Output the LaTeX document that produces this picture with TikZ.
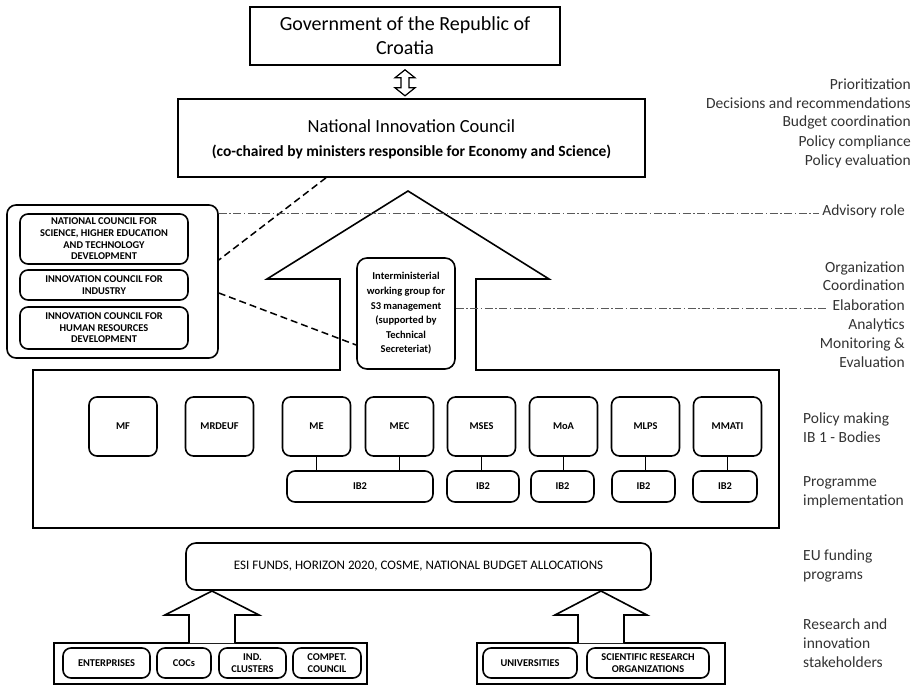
\documentclass[tikz,border=0pt]{standalone}
\usepackage{fontspec}
\setmainfont{Carlito}
\usetikzlibrary{calc}
\begin{document}
\begin{tikzpicture}[x=1pt,y=-1pt,
  plain/.style={draw, line width=1.6pt, inner sep=0pt},
  rbox/.style={draw, line width=1.6pt, rounded corners=8pt, inner sep=0pt, align=center, font=\fontsize{10.4}{11.6}\selectfont\bfseries},
  side/.style={font=\fontsize{15.5}{19}\selectfont, text=black!80, inner sep=0pt},
  ddash/.style={dash pattern=on 8pt off 2.5pt on 1.5pt off 2.5pt, line width=0.9pt, black!65},
  ldash/.style={dash pattern=on 7pt off 4pt, line width=1.5pt},
  conn/.style={line width=0.8pt},
  blockarrow/.style={line width=1.6pt, line join=miter, fill=white}]

\useasboundingbox[fill=white] (0,0) rectangle (916,685);

% top
\node[plain, minimum width=310, minimum height=58, align=center, font=\fontsize{20}{24}\selectfont] (gov) at (405,36) {Government of the Republic of\\Croatia};
\node[plain, minimum width=467, minimum height=78] (nic) at (411.5,138) {};
\node[font=\fontsize{18.5}{22}\selectfont, inner sep=0pt] (nict) at (411.5,126) {National Innovation Council};
\node[font=\fontsize{15.5}{18}\selectfont\bfseries, inner sep=0pt] (nics) at (411.5,152) {(co-chaired by ministers responsible for Economy and Science)};

% double arrow
\draw[blockarrow, line width=1.2pt] ([yshift=-4pt]gov.south) -- ++(10,8) -- ++(-6,0) -- ++(0,10) -- ++(6,0) -- ++(-10,8) -- ++(-10,-8) -- ++(6,0) -- ++(0,-10) -- ++(-6,0) -- cycle;

% big arrow + box outline
\draw[line width=1.6pt, line join=miter] (33,370) -- (340,370) -- (340,279) -- (267,279) -- (408,191) -- (549,279) -- (476,279) -- (476,370) -- (779,370) -- (779,528) -- (33,528) -- cycle;

% advisory container
\node[draw, line width=1.6pt, rounded corners=9pt, minimum width=211, minimum height=153] (adv) at (112.5,281.5) {};
\node[rbox, minimum width=168, minimum height=50] (nc1) at (104,239) {NATIONAL COUNCIL FOR\\SCIENCE, HIGHER EDUCATION\\AND TECHNOLOGY\\DEVELOPMENT};
\node[rbox, minimum width=168, minimum height=30] (nc2) at (104,285) {INNOVATION COUNCIL FOR\\INDUSTRY};
\node[rbox, minimum width=168, minimum height=42] (nc3) at (104,328) {INNOVATION COUNCIL FOR\\HUMAN RESOURCES\\DEVELOPMENT};

% interministerial
\node[rbox, font=\fontsize{10.5}{14.6}\selectfont\bfseries, minimum width=98, minimum height=111, rounded corners=10pt] (imwg) at (406,313.5) {Interministerial\\working group for\\S3 management\\(supported by\\Technical\\Secreteriat)};

% ministries
\foreach \n/\x/\t in {mf/123/MF, mrdeuf/219.5/MRDEUF, me/316.5/ME, mec/399.5/MEC, mses/481.5/MSES, moa/563.5/MoA, mlps/645.5/MLPS, mmati/727.5/MMATI}
  \node[rbox, minimum width=68, minimum height=59] (\n) at (\x,426.5) {\t};

\node[rbox, minimum width=146, minimum height=31] (ib2a) at (360,486.5) {IB2};
\node[rbox, minimum width=72, minimum height=31] (ib2b) at (483,486.5) {IB2};
\node[rbox, minimum width=63, minimum height=31] (ib2c) at (562.5,486.5) {IB2};
\node[rbox, minimum width=63, minimum height=31] (ib2d) at (643.5,486.5) {IB2};
\node[rbox, minimum width=64, minimum height=31] (ib2e) at (725,486.5) {IB2};

\draw[conn] (me.south) -- (me.south |- ib2a.north);
\draw[conn] (mec.south) -- (mec.south |- ib2a.north);
\draw[conn] (mses.south) -- (mses.south |- ib2b.north);
\draw[conn] (moa.south) -- (moa.south |- ib2c.north);
\draw[conn] (mlps.south) -- (mlps.south |- ib2d.north);
\draw[conn] (mmati.south) -- (mmati.south |- ib2e.north);

% funding
\node[draw, line width=1.6pt, rounded corners=10pt, minimum width=465, minimum height=47, font=\fontsize{13}{15}\selectfont] (esi) at (418.5,566.5) {ESI FUNDS, HORIZON 2020, COSME, NATIONAL BUDGET ALLOCATIONS};

% stakeholders
\node[draw, line width=1.6pt, minimum width=313, minimum height=41] (lc) at (210.5,663.5) {};
\node[rbox, minimum width=87, minimum height=30] (ent) at (106.5,663) {ENTERPRISES};
\node[rbox, minimum width=54, minimum height=30] (cocs) at (184,663) {COCs};
\node[rbox, minimum width=67, minimum height=30] (ind) at (252.5,663) {IND.\\CLUSTERS};
\node[rbox, minimum width=68, minimum height=30] (comp) at (327,663) {COMPET.\\COUNCIL};

\node[draw, line width=1.6pt, minimum width=248, minimum height=41] (rc) at (601,663.5) {};
\node[rbox, minimum width=94, minimum height=30] (uni) at (530,663) {UNIVERSITIES};
\node[rbox, minimum width=122, minimum height=30] (sro) at (648,663) {SCIENTIFIC RESEARCH\\ORGANIZATIONS};

\draw[blockarrow] (189,643) -- (189,615) -- (165,615) -- (212,591) -- (259,615) -- (235,615) -- (235,643);
\draw[blockarrow] (578,643) -- (578,615) -- (555,615) -- (601,591) -- (647,615) -- (624,615) -- (624,643);

% dashed lines
\draw[ldash] ([xshift=-85.5pt]nic.south) -- ([yshift=21.5pt]adv.east);
\draw[ldash] ([yshift=-11.5pt]adv.east) -- ([yshift=-31.5pt]imwg.west);

% right side texts
\node[side, anchor=mid east] (p1) at (911,87) {Prioritization};
\node[side, anchor=mid east] (p2) at (911,106) {Decisions and recommendations};
\node[side, anchor=mid east] (p3) at (911,124) {Budget coordination};
\node[side, anchor=mid east] (p4) at (911,144) {Policy compliance};
\node[side, anchor=mid east] (p5) at (911,163) {Policy evaluation};

\node[side, anchor=mid east] (advt) at (905,213) {Advisory role};
\draw[ddash] (adv.east |- advt.mid west) -- ([xshift=-3pt]advt.mid west);

\node[side, anchor=mid east] (o1) at (905,270) {Organization};
\node[side, anchor=mid east] (o2) at (905,288) {Coordination};
\node[side, anchor=mid east] (elab) at (905,308) {Elaboration};
\node[side, anchor=mid east] (o4) at (905,327) {Analytics};
\node[side, anchor=mid east] (o5) at (905,346) {Monitoring \&};
\node[side, anchor=mid east] (o6) at (905,365) {Evaluation};
\draw[ddash] (imwg.east |- elab.mid west) -- ([xshift=-5pt]elab.mid west);

\node[side, anchor=mid west] (l1) at (803,421) {Policy making};
\node[side, anchor=mid west] (l2) at (803,440) {IB 1 - Bodies};
\node[side, anchor=mid west] (l3) at (803,484) {Programme};
\node[side, anchor=mid west] (l4) at (803,503) {implementation};
\node[side, anchor=mid west] (l5) at (803,558) {EU funding};
\node[side, anchor=mid west] (l6) at (803,577) {programs};
\node[side, anchor=mid west] (l7) at (803,627) {Research and};
\node[side, anchor=mid west] (l8) at (803,646) {innovation};
\node[side, anchor=mid west] (l9) at (803,665) {stakeholders};
\end{tikzpicture}
\end{document}
